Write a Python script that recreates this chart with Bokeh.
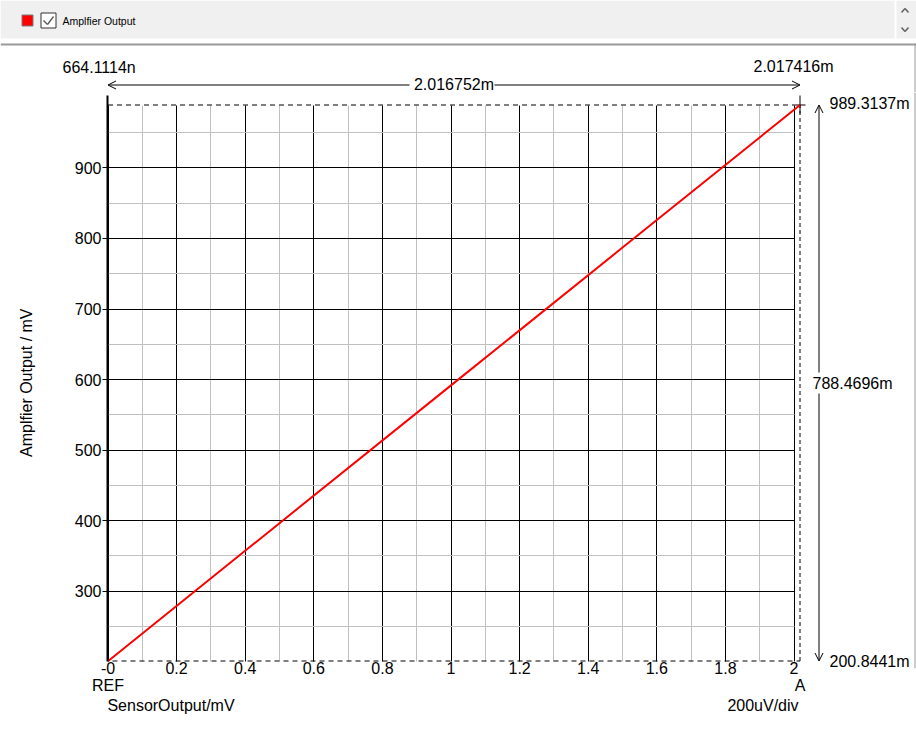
import math
from bokeh.plotting import figure
from bokeh.layouts import column, row
from bokeh.models import Range1d, FixedTicker, LinearAxis, Arrow, OpenHead, Grid
from bokeh.core.properties import value
from bokeh.embed import file_html
from bokeh.resources import INLINE

# ---------------- data ----------------
sensor_mv = [0.000664, 0.5, 1.0, 1.5, 2.017416]          # x: SensorOutput / mV
amp_mv = [200.8441, 396.3, 591.7, 787.1, 989.3137]       # y: Amplfier Output / mV

cursor_x = [0.000664, 2.017416]
cursor_y = [200.8441, 989.3137]
cursor_x_texts = ["664.1114n", "2.017416m", "2.016752m"]
cursor_y_texts = ["989.3137m", "200.8441m", "788.4696m"]

x_ticks = [0, 0.2, 0.4, 0.6, 0.8, 1, 1.2, 1.4, 1.6, 1.8, 2]
x_labels = ["-0", "0.2", "0.4", "0.6", "0.8", "1", "1.2", "1.4", "1.6", "1.8", "2"]
x_minor = [0.1, 0.3, 0.5, 0.7, 0.9, 1.1, 1.3, 1.5, 1.7, 1.9]
y_ticks = [300, 400, 500, 600, 700, 800, 900]
y_minor = [250, 350, 450, 550, 650, 750, 850, 950]

series_name = "Amplfier Output"
y_title = "Amplfier Output  / mV"
x_title = "SensorOutput/mV"
scale_text = "200uV/div"
marker_texts = ["REF", "A"]

FONT = "Liberation Sans"

X0, X1 = 0.0, cursor_x[1]
Y0, Y1 = cursor_y

W, H = 916, 737
# pixel centres of the data box on the page
FL, FR, FT, FB = 107.5, 799.5, 104.5, 660.5
TOP_H = 92            # header strip height
MAIN_B = 668          # bottom edge of main frame


def xd(px):
    return X0 + (px - FL) / (FR - FL) * (X1 - X0)


def yd(py):
    return Y0 + (FB - py) / (FB - FT) * (Y1 - Y0)


def txt(f, x, y, s, align="left", size="16px"):
    f.text(x=[x], y=[y], text=[s], text_font=value(FONT), text_font_size=value(size),
           text_align=align, text_baseline="middle", text_color="black")


def seg(f, x0, y0, x1, y1, color="black", width=1, dash="solid"):
    f.segment(x0=[x0], y0=[y0], x1=[x1], y1=[y1], line_color=color,
              line_width=width, line_dash=dash)


def arrow(f, x0, y0, x1, y1):
    f.add_layout(Arrow(x_start=x0, y_start=y0, x_end=x1, y_end=y1,
                       end=OpenHead(size=8, line_width=1, line_color="black"),
                       line_width=1, line_color="black"))


# ---------------- header / top strip ----------------
top = figure(width=W, height=TOP_H, x_range=Range1d(xd(0), xd(W)),
             y_range=Range1d(yd(TOP_H), yd(0)), x_axis_type=None, y_axis_type=None,
             output_backend="svg", toolbar_location=None, min_border=0)
top.outline_line_color = None
top.background_fill_color = "white"
top.border_fill_color = "white"

top.quad(left=[xd(0)], right=[xd(W)], top=[yd(0)], bottom=[yd(38)],
         fill_color="#f0f0f0", line_color=None)
top.quad(left=[xd(894)], right=[xd(896)], top=[yd(0)], bottom=[yd(38)],
         fill_color="white", line_color=None)
top.quad(left=[xd(0)], right=[xd(916)], top=[yd(43)], bottom=[yd(45)],
         fill_color="#999999", line_color=None)
seg(top, xd(914.5), yd(43), xd(914.5), yd(TOP_H), "#999999", 1)
for a, b, c in ((12, 8, 12), (27, 31, 27)):
    seg(top, xd(901), yd(a), xd(904.5), yd(b), "#606060", 1.5)
    seg(top, xd(904.5), yd(b), xd(908), yd(c), "#606060", 1.5)
top.quad(left=[xd(21.5)], right=[xd(32.5)], top=[yd(14.5)], bottom=[yd(25.5)],
         fill_color="#ff0000", line_color="#7a7a7a", line_width=1)
top.quad(left=[xd(40.5)], right=[xd(55.5)], top=[yd(12.5)], bottom=[yd(27.5)],
         fill_color="white", line_color="#333333", line_width=1)
seg(top, xd(43), yd(20), xd(47), yd(24), "#555555", 1.3)
seg(top, xd(47), yd(24), xd(53), yd(16), "#555555", 1.3)
txt(top, xd(62), yd(20.5), series_name, size="10.5px")

txt(top, xd(62), yd(67), cursor_x_texts[0])
txt(top, xd(753), yd(66), cursor_x_texts[1])
txt(top, (X0 + X1) / 2, yd(84), cursor_x_texts[2], align="center")
arrow(top, xd(409), yd(84.5), X0, yd(84.5))
arrow(top, xd(494), yd(84.5), X1, yd(84.5))

# ---------------- main plot ----------------
p = figure(frame_width=W - 107, frame_height=MAIN_B - TOP_H,
           min_border_left=107, min_border_right=0, min_border_top=0,
           min_border_bottom=H - MAIN_B,
           x_range=Range1d(xd(107), xd(W)), y_range=Range1d(yd(MAIN_B), yd(TOP_H)),
           output_backend="svg", toolbar_location=None)
p.outline_line_color = None
p.background_fill_color = "white"
p.border_fill_color = "white"

has_cross = "cross_bounds" in Grid.properties()
p.xgrid.ticker = FixedTicker(ticks=x_ticks, minor_ticks=x_minor)
p.ygrid.ticker = FixedTicker(ticks=y_ticks, minor_ticks=y_minor)
if has_cross:
    p.xgrid.cross_bounds = (Y0, Y1)
    p.ygrid.cross_bounds = (x_ticks[0], x_ticks[-1])
    for g in (p.xgrid, p.ygrid):
        g.grid_line_color = "black"
        g.grid_line_width = 1
        g.minor_grid_line_color = "#c0c0c0"
        g.minor_grid_line_width = 1
else:
    p.xgrid.visible = False
    p.ygrid.visible = False
    p.segment(x0=x_minor, y0=[Y0] * len(x_minor), x1=x_minor, y1=[Y1] * len(x_minor),
              line_color="#c0c0c0", line_width=1)
    p.segment(x0=[x_ticks[0]] * len(y_minor), y0=y_minor, x1=[x_ticks[-1]] * len(y_minor),
              y1=y_minor, line_color="#c0c0c0", line_width=1)
    p.segment(x0=x_ticks, y0=[Y0] * len(x_ticks), x1=x_ticks, y1=[Y1] * len(x_ticks),
              line_color="black", line_width=1)
    p.segment(x0=[x_ticks[0]] * len(y_ticks), y0=y_ticks, x1=[x_ticks[-1]] * len(y_ticks),
              y1=y_ticks, line_color="black", line_width=1)


def style_xaxis(ax, standoff):
    ax.axis_line_color = None
    ax.major_tick_out = 0
    ax.major_tick_in = 0
    ax.minor_tick_out = 0
    ax.minor_tick_in = 0
    ax.major_label_standoff = standoff
    ax.major_label_text_font = FONT
    ax.major_label_text_font_size = "16px"
    ax.major_label_text_color = "black"


xa = p.xaxis[0]
xa.ticker = FixedTicker(ticks=x_ticks, minor_ticks=x_minor)
xa.major_label_overrides = dict(zip(x_ticks, x_labels))
style_xaxis(xa, -7)

ax2 = LinearAxis(ticker=FixedTicker(ticks=[X0, X1]),
                 major_label_overrides=dict(zip([X0, X1], marker_texts)))
style_xaxis(ax2, 0)
p.add_layout(ax2, "below")

pos3 = [xd(170.5), xd(762.5)]
ax3 = LinearAxis(ticker=FixedTicker(ticks=pos3),
                 major_label_overrides=dict(zip(pos3, [x_title, scale_text])))
style_xaxis(ax3, 0)
p.add_layout(ax3, "below")

ya = p.yaxis[0]
ya.ticker = FixedTicker(ticks=y_ticks, minor_ticks=y_minor)
ya.bounds = (Y0, yd(95))
ya.axis_line_color = "black"
ya.axis_line_width = 2
ya.major_tick_line_color = "black"
ya.major_tick_out = 5
ya.major_tick_in = 0
ya.minor_tick_out = 0
ya.minor_tick_in = 0
ya.major_label_standoff = 1
ya.major_label_text_font = FONT
ya.major_label_text_font_size = "16px"
ya.major_label_text_color = "black"
ya.axis_label = y_title
ya.axis_label_text_font = FONT
ya.axis_label_text_font_size = "16px"
ya.axis_label_text_font_style = "normal"
ya.axis_label_text_color = "black"
ya.axis_label_standoff = 37

# cursor lines
seg(p, X0, Y1, xd(794), Y1, dash="5 4")
seg(p, xd(112), Y0, X1, Y0, dash="5 4")
seg(p, X1, Y0, X1, Y1, dash="4 3")
seg(p, X1, yd(95), X1, yd(113))
seg(p, xd(794), Y1, xd(805), Y1)

p.line(sensor_mv, amp_mv, line_color="#ff0000", line_width=2)

# right-hand cursor dimension
arrow(p, xd(818.5), yd(372), xd(818.5), Y1)
arrow(p, xd(818.5), yd(393), xd(818.5), Y0)
txt(p, xd(829), yd(103), cursor_y_texts[0])
txt(p, xd(829), yd(661), cursor_y_texts[1])
txt(p, xd(812), (Y0 + Y1) / 2, cursor_y_texts[2])
seg(p, xd(914.5), yd(TOP_H), xd(914.5), yd(MAIN_B), "#999999", 1)

layout = column(row(top, spacing=0), row(p, spacing=0), spacing=0)
open("out.html", "w").write(file_html(layout, INLINE))
